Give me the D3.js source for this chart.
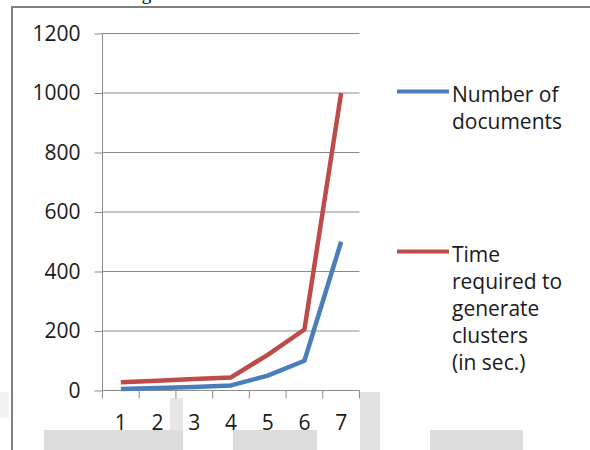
<!DOCTYPE html>
<html><head><meta charset="utf-8">
<script src="https://cdn.jsdelivr.net/npm/d3@7"></script>
<style>html,body{margin:0;padding:0;background:#fff;overflow:hidden}</style>
</head><body>
<svg id="c" width="590" height="450"></svg>
<script>
const categories = ["1","2","3","4","5","6","7"];
const numDocuments = [5, 8, 12, 17, 50, 100, 500];
const timeRequired = [28, 33, 39, 44, 120, 205, 1000];
const yTicks = [0, 200, 400, 600, 800, 1000, 1200];
const seriesNames = [["Number of","documents"],["Time","required to","generate","clusters","(in sec.)"]];
const seriesColors = ["#4A7EBB", "#BE4B48"];
const caption = "Fig. 4: Performance Measurement";

const svg = d3.select("#c");
const font = "Open Sans, Lato, sans-serif";
const txtCol = "#1a1a1a";

// scan artifacts (light gray blocks)
const art = [[0,392,9,26,"#f2f2f2"],[170,398,13,32,"#e6e6e6"],[44,430,139,20,"#dcdcdc"],
             [233,430,84,20,"#dcdcdc"],[360,392,20,58,"#e2e2e2"],[430,430,93,20,"#dcdcdc"]];
svg.selectAll("rect.art").data(art).enter().append("rect")
  .attr("x",d=>d[0]).attr("y",d=>d[1]).attr("width",d=>d[2]).attr("height",d=>d[3])
  .attr("fill",d=>d[4]);

// caption cut off at top
svg.append("text").attr("x",126).attr("y",0).attr("font-family","Liberation Serif, serif")
  .attr("font-size",19).attr("fill","#000").text(caption);

// frame
svg.append("path").attr("d","M12,450 V7 H590").attr("fill","none").attr("stroke","#808080").attr("stroke-width",2);

const x = d3.scaleBand().domain(categories).range([102.5, 359.5]);
const y = d3.scaleLinear().domain([0,1200]).range([390.5, 33.5]);

// gridlines
svg.append("g").selectAll("line").data(yTicks.filter(v=>v>0)).enter().append("line")
  .attr("x1",102.5).attr("x2",359.5).attr("y1",d=>y(d)).attr("y2",d=>y(d))
  .attr("stroke","#8c8c8c").attr("stroke-width",1);

// y axis
const ya = svg.append("g").attr("transform","translate(102.5,0)")
  .call(d3.axisLeft(y).tickValues(yTicks).tickSize(8).tickPadding(14).tickFormat(d3.format("d")));
ya.select(".domain").attr("stroke","#8c8c8c").attr("d","M0,"+y(1200)+"V"+y(0));
ya.selectAll(".tick line").attr("stroke","#8c8c8c");
ya.selectAll("text").attr("font-family",font).attr("font-size",21).attr("fill",txtCol);

// x axis
const xa = svg.append("g").attr("transform","translate(0,390.5)")
  .call(d3.axisBottom(x).tickSize(0).tickPadding(25));
xa.select(".domain").attr("stroke","#8c8c8c").attr("d","M102.5,0H359.5");
xa.selectAll("text").attr("font-family",font).attr("font-size",21).attr("fill",txtCol);
const bounds = categories.map(c=>x(c)).concat([x(categories[6])+x.bandwidth()]);
xa.selectAll("line.bt").data(bounds).enter().append("line").attr("class","bt")
  .attr("x1",d=>d).attr("x2",d=>d).attr("y1",0).attr("y2",8).attr("stroke","#8c8c8c");

const line = d3.line().x((d,i)=>x(categories[i])+x.bandwidth()/2).y(d=>y(d));
[numDocuments, timeRequired].forEach((s,k)=>{
  svg.append("path").datum(s).attr("d",line).attr("fill","none")
    .attr("stroke",seriesColors[k]).attr("stroke-width",4.5).attr("stroke-linejoin","round");
});

// legend
const legY = [91.5, 251.5];
seriesNames.forEach((lines,k)=>{
  svg.append("line").attr("x1",397).attr("x2",449).attr("y1",legY[k]).attr("y2",legY[k])
    .attr("stroke",seriesColors[k]).attr("stroke-width",4);
  const t = svg.append("text").attr("font-family",font).attr("font-size",21).attr("fill",txtCol);
  lines.forEach((l,i)=>{
    t.append("tspan").attr("x",452).attr("y",legY[k]+10+i*27).text(l);
  });
});
</script>
</body></html>
